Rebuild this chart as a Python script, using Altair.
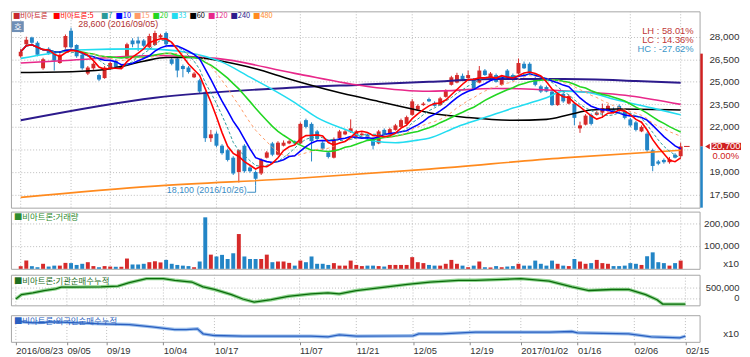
import altair as alt
import pandas as pd

# ---------------- data ----------------
OPEN = [26700, 27500, 27950, 27600, 25900, 27200, 26900, 26250, 27300, 28400,
        27450, 26800, 25550, 25900, 25450, 25250, 25900, 26400, 25900, 26550,
        27750, 27750, 27750, 27300, 27450, 27950, 28250, 26500, 26550, 26050,
        25950, 25300, 25100, 24300, 21250, 21550, 20750, 20450, 19950, 19000,
        20750, 19300, 19000, 18900, 19950, 20900, 20150, 20750, 20900, 21050,
        20900, 22450, 22200, 21700, 20950, 20300, 19950, 21250, 21500, 21650,
        21350, 21450, 21500, 21200, 20900, 21800, 21500, 21800, 22000, 22200,
        22800, 23150, 23450, 23850, 23600, 23450, 24000, 24800, 24950, 25400,
        25250, 25150, 24950, 25750, 25250, 25450, 24800, 25750, 25450, 25550,
        26200, 26200, 25250, 24700, 24650, 24350, 23450, 24200, 23550, 23550,
        21900, 22150, 22800, 22800, 22950, 23050, 23150, 23400, 23050, 22500,
        22300, 21700, 21550, 20450, 19700, 19800, 19650, 20150, 20050]
HIGH = [27200, 28000, 28000, 27700, 26600, 27300, 27000, 26900, 28150, 28600,
        27500, 26900, 26050, 26300, 25550, 26050, 26350, 26500, 26150, 27600,
        27900, 28000, 27850, 28200, 28400, 28200, 28350, 26600, 26650, 26150,
        26050, 25650, 25200, 24400, 21800, 21700, 20850, 20550, 20050, 20500,
        20850, 19400, 19100, 19900, 20400, 21000, 21050, 21100, 21150, 21100,
        22300, 22550, 22300, 21800, 21050, 20400, 21300, 21800, 21800, 22500,
        21800, 21650, 21550, 21300, 21800, 21900, 21950, 22200, 22550, 22750,
        23850, 23500, 23650, 23950, 23700, 24000, 24500, 25400, 25600, 25550,
        25750, 25250, 26050, 25850, 25650, 25550, 25400, 25850, 25550, 26550,
        26350, 26300, 25350, 24800, 24750, 24450, 24300, 24300, 24150, 23650,
        22350, 22850, 22900, 23050, 23550, 23500, 23300, 23500, 23150, 22600,
        22400, 22100, 21650, 20550, 19800, 19900, 20000, 20250, 20950]
LOW = [26600, 27400, 27500, 26700, 25800, 26800, 25750, 26200, 27200, 27200,
       26600, 25800, 25450, 25800, 25050, 25200, 25800, 25900, 25850, 26500,
       27300, 27050, 27300, 27200, 27400, 27900, 27400, 26100, 25300, 25300,
       25550, 25250, 24250, 21000, 21000, 20650, 20150, 19700, 18800, 18300,
       18950, 18950, 18100, 18800, 19900, 20050, 20100, 20700, 20850, 20800,
       20850, 21900, 19700, 21100, 20450, 19900, 19900, 21200, 21450, 21600,
       21300, 21400, 21150, 20500, 20850, 21450, 21450, 21750, 21950, 22150,
       22750, 23100, 23400, 23650, 23350, 23400, 23950, 24750, 24900, 25100,
       25200, 24450, 24900, 25400, 25200, 24950, 24750, 25250, 25050, 25500,
       25850, 25550, 24700, 24250, 24300, 23400, 23400, 23600, 23500, 22100,
       21600, 22100, 22100, 22750, 22600, 23000, 22900, 22950, 22500, 22000,
       21700, 21650, 20350, 19050, 19450, 19550, 19550, 19900, 19950]
CLOSE = [27000, 27800, 27600, 26800, 26500, 26900, 26400, 26800, 28050, 27300,
         26700, 25900, 25950, 26200, 25150, 25950, 26250, 25950, 26050, 27500,
         27500, 27550, 27400, 28050, 28250, 28100, 27500, 26200, 25750, 25850,
         25650, 25550, 24350, 21250, 21500, 20750, 20250, 19800, 18900, 20450,
         19050, 19050, 18550, 19800, 20300, 20150, 20950, 20950, 21050, 20900,
         22200, 22000, 21050, 21200, 20550, 20000, 21200, 21700, 21700, 21900,
         21700, 21550, 21250, 20750, 21700, 21500, 21850, 22100, 22450, 22650,
         23700, 23400, 23550, 23700, 23400, 23900, 24400, 25300, 25450, 25150,
         25450, 24500, 25750, 25450, 25550, 25000, 25300, 25300, 25150, 26250,
         25900, 25650, 24800, 24350, 24350, 23450, 24200, 23700, 24050, 22600,
         22100, 22750, 22200, 22950, 23250, 23400, 22950, 23050, 22600, 22100,
         21800, 22000, 20450, 19400, 19550, 19650, 19850, 19950, 20700]
VOLUME = [11600, 36000, 11600, 7000, 22000, 10000, 14000, 14000, 26000, 25000,
          17000, 22000, 29000, 12000, 7000, 12000, 10000, 9000, 9000, 45000,
          19000, 19000, 22000, 29000, 33000, 28000, 39000, 22000, 17000, 14000,
          12000, 7000, 32000, 225000, 62000, 54000, 61000, 43000, 68000, 152000,
          54000, 43000, 43000, 43000, 62000, 29000, 32000, 32000, 26000, 14000,
          36000, 29000, 54000, 22000, 22000, 17000, 25000, 14000, 14000, 36000,
          17000, 12000, 14000, 14000, 12000, 10000, 17000, 17000, 17000, 17000,
          51000, 29000, 25000, 17000, 14000, 14000, 22000, 39000, 22000, 14000,
          7000, 14000, 32000, 7000, 6000, 12000, 7000, 10000, 12000, 22000,
          14000, 14000, 36000, 22000, 14000, 36000, 22000, 14000, 12000, 43000,
          32000, 22000, 25000, 39000, 25000, 22000, 12000, 12000, 14000, 25000,
          22000, 17000, 55000, 72000, 29000, 25000, 14000, 25000, 36000]

TICK_IDX = [0, 9, 16, 26, 35, 50, 60, 70, 80, 89, 99, 109, 118]
TICK_LBL = ["2016/08/23", "09/05", "09/19", "10/04", "10/17", "11/07", "11/21",
            "12/05", "12/19", "2017/01/02", "01/16", "02/06", "02/15"]
HI_DATE = "2016/09/05"
LO_DATE = "2016/10/26"
PRICE_TICKS = [17500, 19000, 20500, 22000, 23500, 25000, 26500, 28000]
VOL_TICKS = [100000, 200000]
INST_TICKS = [0, 500000]

# long moving averages (need history before the window) read as knots
MA33_I = [0, 5, 10, 22, 30, 36, 41, 45, 49, 53, 59, 63, 67, 71, 73, 78, 83, 88, 94, 97, 101, 107, 113, 118]
MA33_V = [26560, 26870, 27120, 27190, 26940, 26310, 25310, 24500, 23620, 22620, 21690, 21060, 20940,
          21120, 21250, 22000, 22620, 23250, 23940, 24370, 24310, 23750, 23250, 22810]
MA60_I = [0, 10, 16, 22, 26, 31, 36, 42, 48, 56, 64, 70, 73, 80, 88, 94, 98, 102, 107, 118]
MA60_V = [25620, 25690, 25870, 26370, 26620, 26620, 26370, 25870, 25190, 24370, 23690, 23190,
          22940, 22620, 22440, 22500, 22810, 23120, 23190, 23120]
MA120_I = [0, 9, 24, 35, 49, 62, 73, 85, 97, 109, 118]
MA120_V = [26250, 26440, 26750, 26560, 25560, 24690, 24370, 24560, 24400, 24060, 23500]
MA240_I = [0, 24, 49, 61, 73, 85, 97, 110, 118]
MA240_V = [22440, 23940, 24620, 24810, 25000, 25190, 25190, 25060, 24940]
MA480_I = [0, 24, 49, 73, 97, 118]
MA480_V = [17310, 18060, 18560, 19190, 19940, 20440]

# institution cumulative net buying (knots)
INST_I = [0, 1, 3, 5, 7, 8, 10, 15, 18, 20, 23, 26, 28, 31, 33, 35, 38, 40, 42, 45,
          48, 52, 55, 57, 60, 64, 69, 73, 78, 81, 86, 89, 94, 98, 101, 105, 108, 111, 113, 114, 118]
INST_V = [-50000, 167000, 250000, 367000, 450000, 533000, 533000, 550000, 583000, 750000,
          950000, 950000, 867000, 783000, 550000, 417000, 167000, -50000, -200000, -83000,
          83000, 200000, 250000, 200000, 367000, 500000, 667000, 783000, 867000, 867000,
          917000, 950000, 833000, 550000, 367000, 417000, 417000, 167000, -83000, -300000, -300000]
# foreign cumulative net buying (knots)
FRN_I = [0, 3, 7, 15, 20, 24, 28, 30, 32, 33, 35, 40, 52, 55, 57, 60, 70, 71, 75, 81,
         94, 98, 99, 108, 112, 117, 118]
FRN_V = [600000, 550000, 580000, 520000, 500000, 430000, 350000, 350000, 370000, 220000,
         170000, 150000, 150000, 130000, 190000, 150000, 160000, 220000, 220000, 270000,
         270000, 290000, 250000, 220000, 130000, 100000, 150000]

LEGEND_LBL = ["■비아트론", "■비아트론:5", "■7", "■10", "■15", "■20", "■33", "■60", "■120", "■240", "■480"]
LEGEND_COL = ["#c8282d", "#ff0000", "#2a9a9a", "#0000ff", "#ff9a66", "#22d622", "#22dcf0",
              "#000000", "#e8288a", "#2c1a8c", "#ff8a1e"]

# ---------------- layout / style ----------------
W = 698
H_MAIN, H_VOL, H_INST, H_FRN = 199, 58, 31, 27
X_DOM = [-0.86, 120.5]
P_DOM = [16625, 29690]
V_DOM = [0, 250000]
I_DOM = [-360000, 1140000]
F_DOM = [-20000, 780000]
UP, DN = "#d62a2a", "#2385c6"
GRID = "#bcbcbc"
KFONT = "Noto Sans CJK KR"
NFONT = "Liberation Sans"
LBL = dict(labelFont=NFONT, labelFontSize=10, labelColor="#333333")

n = len(CLOSE)
df = pd.DataFrame({"i": list(range(n)), "o": OPEN, "h": HIGH, "l": LOW, "c": CLOSE, "v": VOLUME})
df["col"] = [UP if c >= o else DN for o, c in zip(OPEN, CLOSE)]
grid_df = pd.DataFrame({"i": TICK_IDX})

lbl_js = "[" + ",".join("'" + s + "'" for s in TICK_LBL) + "]"
idx_js = "[" + ",".join(str(v) for v in TICK_IDX) + "]"
XSCALE = alt.Scale(domain=X_DOM, nice=False, zero=False)


def xenc(labels=False):
    if labels:
        ax = alt.Axis(values=TICK_IDX, labelExpr=f"{lbl_js}[indexof({idx_js}, datum.value)]",
                      labelAlign="left", labelPadding=1, tickSize=3, tickColor="#888888",
                      domain=False, grid=False, title=None, labelOverlap=False,
                      labelFont=NFONT, labelFontSize=9.5, labelColor="#333333")
        return alt.X("i:Q", scale=XSCALE, axis=ax)
    return alt.X("i:Q", scale=XSCALE, axis=None)


def yax(field, dom, values, expr="format(datum.value, ',')", fs=10):
    lbl = dict(LBL)
    lbl["labelFontSize"] = fs
    kw = dict(orient="right", values=values, grid=True, gridDash=[1, 2], gridColor=GRID,
              ticks=False, domain=False, labelAlign="right", labelPadding=40, title=None,
              labelExpr=expr, **lbl)
    return alt.Y(field, scale=alt.Scale(domain=dom, nice=False, zero=False), axis=alt.Axis(**kw))


PEXPR = "datum.value == 20500 ? '' : format(datum.value, ',')"


def yprice(field):
    return yax(field, P_DOM, PRICE_TICKS, PEXPR)


def vgrid(labels=False):
    return alt.Chart(grid_df).mark_rule(color=GRID, strokeDash=[1, 2], strokeWidth=1).encode(x=xenc(labels))


one = pd.DataFrame({"k": [0]})

# ---------------- main price panel ----------------
wick = alt.Chart(df).mark_rule(strokeWidth=1).encode(
    x=xenc(), y=yprice("l:Q"), y2="h:Q", color=alt.Color("col:N", scale=None))
body = alt.Chart(df).mark_bar(size=4).encode(
    x=xenc(), y=yprice("o:Q"), y2="c:Q", color=alt.Color("col:N", scale=None))


def ma_knot(I, V, color, width=1.6):
    d = pd.DataFrame({"i": I, "m": V})
    return alt.Chart(d).mark_line(color=color, strokeWidth=width, interpolate="monotone").encode(
        x=xenc(), y=yprice("m:Q"))


def ma_calc(period, color, width=1.6, dash=None):
    mk = dict(color=color, strokeWidth=width)
    if dash:
        mk["strokeDash"] = dash
    return alt.Chart(df).transform_window(
        m="mean(c)", frame=[-(period - 1), 0], sort=[{"field": "i"}]
    ).mark_line(**mk).encode(x=xenc(), y=yprice("m:Q"))


lines = [
    ma_knot(MA480_I, MA480_V, LEGEND_COL[10]),
    ma_knot(MA240_I, MA240_V, LEGEND_COL[9], 2),
    ma_knot(MA120_I, MA120_V, LEGEND_COL[8]),
    ma_knot(MA60_I, MA60_V, LEGEND_COL[7]),
    ma_knot(MA33_I, MA33_V, LEGEND_COL[6]),
    ma_calc(20, LEGEND_COL[5]),
    ma_calc(15, LEGEND_COL[4], 1, [3, 3]),
    ma_calc(10, LEGEND_COL[3]),
    ma_calc(7, LEGEND_COL[2], 1, [3, 2]),
    ma_calc(5, LEGEND_COL[1]),
]

hi = max(HIGH)
lo = min(LOW)
last = CLOSE[-1]
hi_i = HIGH.index(hi)
lo_i = LOW.index(lo)

# legend row: x positions laid out from estimated text widths
LEG_FS = 7.5
leg_x, cx = [], 2.0
for s in LEGEND_LBL:
    leg_x.append(cx)
    cx += sum(LEG_FS if ord(ch) > 0x2000 else LEG_FS * 0.55 for ch in s) + 3
leg = pd.DataFrame({"t": LEGEND_LBL, "col": LEGEND_COL, "px": leg_x})
legend = alt.Chart(leg).mark_text(align="left", baseline="middle", fontSize=LEG_FS, font=KFONT).encode(
    x=alt.X("px:Q", scale=None), y=alt.value(5), text="t:N", color=alt.Color("col:N", scale=None))

hi_txt = alt.Chart(pd.DataFrame({"i": [hi_i + 1.3], "p": [28850],
                                 "t": [f"{hi:,} ({HI_DATE})"]})).mark_text(
    align="left", baseline="middle", fontSize=9, font=NFONT, color="#b03030").encode(
    x=xenc(), y=yprice("p:Q"), text="t:N")
lo_txt = alt.Chart(pd.DataFrame({"i": [lo_i - 1.6], "p": [17800],
                                 "t": [f"{lo:,} ({LO_DATE})"]})).mark_text(
    align="right", baseline="middle", fontSize=9, font=NFONT, color="#3a8cc4").encode(
    x=xenc(), y=yprice("p:Q"), text="t:N")
lo_lead_h = alt.Chart(pd.DataFrame({"i": [lo_i - 1.5], "i2": [lo_i], "p": [17650]})).mark_rule(
    color="#3a8cc4", strokeWidth=1).encode(x=xenc(), x2="i2:Q", y=yprice("p:Q"))
lo_lead_v = alt.Chart(pd.DataFrame({"i": [lo_i], "p": [17650], "p2": [lo]})).mark_rule(
    color="#3a8cc4", strokeWidth=1).encode(x=xenc(), y=yprice("p:Q"), y2="p2:Q")

stats = pd.DataFrame({
    "t": [f"LH :  {(hi / lo - 1) * 100:.2f}%", f"LC :  {(last / lo - 1) * 100:.2f}%",
          f"HC : {(last / hi - 1) * 100:.2f}%"],
    "py": [20, 29, 38], "col": ["#c03838", "#c03838", "#3a96c8"]})
stats_txt = alt.Chart(stats).mark_text(align="right", baseline="middle", fontSize=9.5, font=NFONT).encode(
    x=alt.value(W - 6), y=alt.Y("py:Q", scale=None), text="t:N", color=alt.Color("col:N", scale=None))

icon = alt.Chart(one).mark_rect(color="#6f8fb6").encode(
    x=alt.value(1), x2=alt.value(13), y=alt.value(10), y2=alt.value(21))
icon_t = alt.Chart(one).mark_text(text="호", color="white", fontSize=8.5, font=KFONT).encode(
    x=alt.value(7), y=alt.value(15.5))

cur = pd.DataFrame({"p": [last], "top": [26875], "bot": [P_DOM[0]]})
bar_red = alt.Chart(cur).mark_rule(color="#d02020", strokeWidth=2.5).encode(
    x=alt.value(W + 2), y=yprice("top:Q"), y2="p:Q")
bar_blue = alt.Chart(cur).mark_rule(color="#2385c6", strokeWidth=2.5).encode(
    x=alt.value(W + 2), y=yprice("p:Q"), y2="bot:Q")
tri = alt.Chart(cur).mark_point(shape="triangle-left", filled=True, size=30, color="#d02020", opacity=1).encode(
    x=alt.value(W + 8), y=yprice("p:Q"))
box = alt.Chart(cur).transform_calculate(a="datum.p + 240", b="datum.p - 240").mark_rect(color="#d02020").encode(
    x=alt.value(W + 12), x2=alt.value(W + 42), y=yprice("a:Q"), y2="b:Q")
box_t = alt.Chart(cur).transform_calculate(t="format(datum.p, ',')").mark_text(
    color="white", fontSize=9.5, font=NFONT, align="center", baseline="middle").encode(
    x=alt.value(W + 27), y=yprice("p:Q"), text="t:N")
pct_t = alt.Chart(cur).transform_calculate(q="datum.p - 620").mark_text(
    color="#d02020", fontSize=9.5, font=NFONT, align="right", baseline="middle", text="0.00%").encode(
    x=alt.value(W + 40), y=yprice("q:Q"))
cur_dash = alt.Chart(pd.DataFrame({"i": [n - 0.4], "i2": [n + 0.6], "p": [last]})).mark_rule(
    color="#d02020", strokeWidth=1).encode(x=xenc(), x2="i2:Q", y=yprice("p:Q"))

main = alt.layer(vgrid(), wick, body, *lines, hi_txt, lo_txt, lo_lead_h, lo_lead_v, legend, stats_txt,
                 icon, icon_t, bar_red, bar_blue, tri, box, box_t, pct_t, cur_dash).properties(
    width=W, height=H_MAIN)


def title_layer(text, color):
    return alt.Chart(one).mark_text(text=text, align="left", baseline="middle", fontSize=8.5,
                                    font=KFONT, color=color).encode(x=alt.value(3), y=alt.value(6))


def x10_layer(py):
    return alt.Chart(one).mark_text(text="x10", align="right", baseline="middle", fontSize=10,
                                    font=NFONT, color="#333333").encode(x=alt.value(W + 40), y=alt.value(py))


# ---------------- volume panel ----------------
vol_bars = alt.Chart(df).mark_bar(size=4).encode(
    x=xenc(), y=yax("v:Q", V_DOM, VOL_TICKS), color=alt.Color("col:N", scale=None))
vol = alt.layer(vgrid(), vol_bars, title_layer("■비아트론:거래량", "#2e8b2e"), x10_layer(H_VOL - 5)).properties(
    width=W, height=H_VOL)

# ---------------- institution panel ----------------
inst_df = pd.DataFrame({"i": INST_I, "v": INST_V})
inst_halo = alt.Chart(inst_df).mark_line(color="#8fd48f", strokeWidth=3.5).encode(
    x=xenc(), y=yax("v:Q", I_DOM, INST_TICKS, fs=9.5))
inst_line = alt.Chart(inst_df).mark_line(color="#0b6b0b", strokeWidth=1.3).encode(
    x=xenc(), y=yax("v:Q", I_DOM, INST_TICKS, fs=9.5))
inst = alt.layer(vgrid(), inst_halo, inst_line, title_layer("■비아트론:기관순매수누적", "#1f6f1f")).properties(
    width=W, height=H_INST)

# ---------------- foreign panel (carries the date axis) ----------------
frn_df = pd.DataFrame({"i": FRN_I, "v": FRN_V})
frn_y = alt.Y("v:Q", scale=alt.Scale(domain=F_DOM, nice=False, zero=False), axis=None)
frn_halo = alt.Chart(frn_df).mark_line(color="#9dc0ec", strokeWidth=3.5).encode(x=xenc(True), y=frn_y)
frn_line = alt.Chart(frn_df).mark_line(color="#2a5fc0", strokeWidth=1.3).encode(x=xenc(True), y=frn_y)
frn = alt.layer(vgrid(True), frn_halo, frn_line, title_layer("■비아트론:외국인순매수누적", "#2a5fc0"),
                x10_layer(19)).properties(width=W, height=H_FRN)

chart = alt.vconcat(main, vol, inst, frn, spacing=1).resolve_scale(
    x="independent", y="independent").properties(padding=0, background="white").configure_view(
    stroke="#a6a6a6", strokeWidth=1)

chart.save("out.html", embed_options={"renderer": "svg", "actions": False})
